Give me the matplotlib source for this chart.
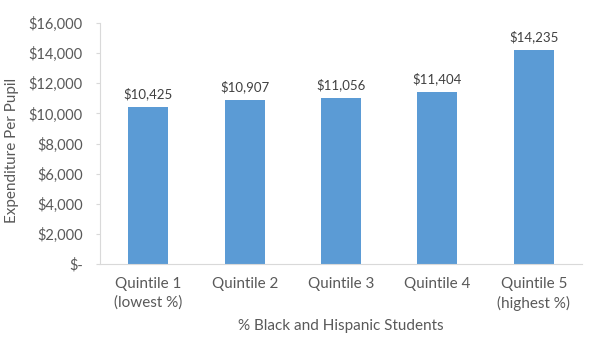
import matplotlib
matplotlib.use("Agg")
import matplotlib.pyplot as plt

plt.rcParams['font.family'] = ['Lato', 'DejaVu Sans']

categories = ['Quintile 1\n(lowest %)', 'Quintile 2', 'Quintile 3', 'Quintile 4', 'Quintile 5\n(highest %)']
spending = [10425, 10907, 11056, 11404, 14235]
yticks = [0, 2000, 4000, 6000, 8000, 10000, 12000, 14000, 16000]

txt = '#595959'
line = '#d9d9d9'

fig = plt.figure(figsize=(6, 3.54), dpi=100)
ax = fig.add_axes([0.167, 0.254, 0.803, 0.681])

x = range(len(categories))
bars = ax.bar(x, spending, width=0.415, color='#5b9bd5')
for b, v in zip(bars, spending):
    ax.text(b.get_x() + b.get_width() / 2, v + 450, f'${v:,}', ha='center', va='bottom',
            fontsize=9.5, color='#404040')

ax.set_xlim(-0.5, len(categories) - 0.5)
ax.set_ylim(0, 16000)
ax.set_yticks(yticks)
ax.set_yticklabels(['$-' if t == 0 else f'${t:,}' for t in yticks])
ax.set_xticks(list(x))
ax.set_xticklabels(categories, linespacing=1.45)

for s in ['top', 'right']:
    ax.spines[s].set_visible(False)
ax.spines['left'].set_color(line)
ax.spines['bottom'].set_color(line)
ax.tick_params(axis='y', colors=line, labelcolor=txt, labelsize=10.5, length=3, pad=9.5)
ax.tick_params(axis='x', length=0, labelcolor=txt, labelsize=11, pad=9)

ax.set_xlabel('% Black and Hispanic Students', color=txt, fontsize=11, labelpad=6)
ax.set_ylabel('Expenditure Per Pupil', color=txt, fontsize=11)
ax.yaxis.set_label_coords(-0.168, 0.47)

fig.savefig('out.png', dpi=100)
